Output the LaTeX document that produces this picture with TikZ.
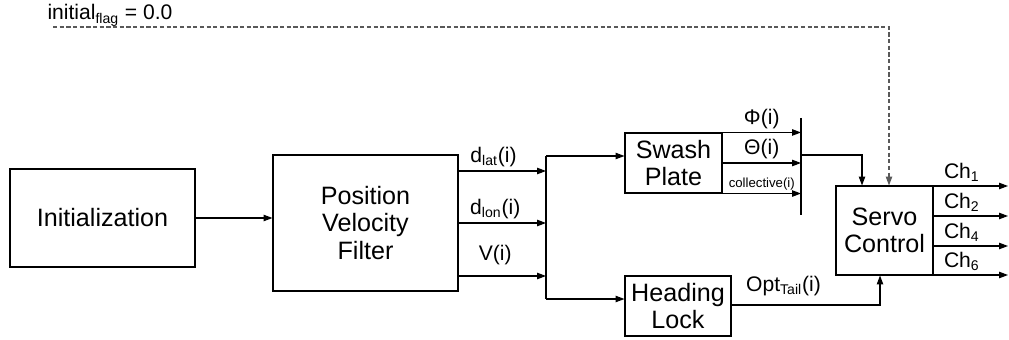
\documentclass[tikz,border=0pt]{standalone}
\usepackage{fontspec}
\setmainfont{Liberation Sans}
\usetikzlibrary{arrows.meta, positioning, calc}
\newcommand{\boxfont}{\fontsize{14.3}{15.5}\selectfont}
\newcommand{\sigfont}{\fontsize{12}{13}\selectfont}

\begin{document}
\begin{tikzpicture}[
  line width=0.6pt,
  >={Triangle[length=5pt,width=3.6pt]},
  block/.style={draw, align=center, inner sep=0pt, font=\boxfont},
  sig/.style={font=\sigfont, inner sep=2pt},
  flagline/.style={dashed, dash pattern=on 2.4pt off 1.4pt, black!65}
]
  \useasboundingbox (0,0) rectangle (20.18,6.78);

  % blocks
  \node[block, minimum width=3.7cm, minimum height=1.96cm]
    (init) at (2.05, 2.42) {Initialization};
  \node[block, minimum width=3.7cm, minimum height=2.72cm]
    (pvf) at (7.31, 2.32) {Position\\Velocity\\Filter};
  \node[block, minimum width=1.94cm, minimum height=1.2cm]
    (swash) at (13.47, 3.52) {Swash\\Plate};
  \node[block, minimum width=2.12cm, minimum height=1.2cm]
    (head) at (13.56, 0.66) {Heading\\Lock};
  \node[block, minimum width=1.94cm, minimum height=1.78cm]
    (servo) at (17.69, 2.17) {Servo\\Control};

  % bus points
  \coordinate (busT) at (10.92, 3.66);
  \coordinate (busB) at (10.92, 0.80);
  \coordinate (barT) at (16.02, 4.42);
  \coordinate (barB) at (16.02, 2.48);
  \coordinate (dlat) at (10.92, 3.36);
  \coordinate (dlon) at (10.92, 2.32);
  \coordinate (vel)  at (10.92, 1.26);

  \draw[->] (init.east) -- (init.east -| pvf.west);

  \draw[->] (pvf.east |- dlat) -- (dlat)
    node[sig, above, pos=0.4] {d\textsubscript{lat}(i)};
  \draw[->] (pvf.east |- dlon) -- (dlon)
    node[sig, above, pos=0.42] {d\textsubscript{lon}(i)};
  \draw[->] (pvf.east |- vel) -- (vel)
    node[sig, above=4pt, pos=0.42] {V(i)};

  \draw (busT) -- (busB);
  \draw[->] (busT) -- (busT -| swash.west);
  \draw[->] (busB) -- (busB -| head.west);

  % swash plate outputs
  \draw (barT) -- (barB);
  \draw[->] (swash.north east) -- (swash.north east -| barT)
    node[sig, above, midway] {Φ(i)};
  \draw[->] (swash.east) -- (swash.east -| barT)
    node[sig, above, midway] {Θ(i)};
  \draw[->] (swash.south east) -- (swash.south east -| barT)
    node[font=\fontsize{7.5}{8}\selectfont, inner sep=1.5pt, above, midway] {collective(i)};

  \coordinate (toServo) at (17.24, 3.68);
  \draw[->] (toServo -| barT) -- (toServo) -- (toServo |- servo.north);

  % initial flag
  \node[sig, anchor=base west, inner sep=0pt] (flag) at (0.94, 6.38)
    {initial\textsubscript{flag} = 0.0};
  \coordinate (flagS) at (1.06, 6.24);
  \coordinate (flagE) at (17.78, 6.24);
  \draw[flagline, ->] (flagS) -- (flagE) -- (flagE |- servo.north);

  % heading lock output
  \coordinate (optIn) at (17.6, 0.68);
  \draw[->] (optIn -| head.east)
    -- node[sig, above=3pt, pos=0.35] {Opt\textsubscript{Tail}(i)} (optIn)
    -- (optIn |- servo.south);

  % servo outputs
  \foreach \y/\n in {3.06/1, 2.46/2, 1.86/4, 1.28/6} {
    \coordinate (ch\n) at (20.16, \y);
    \draw[->] (ch\n -| servo.east) -- (ch\n)
      node[sig, above, pos=0.38] {Ch\textsubscript{\n}};
  }
\end{tikzpicture}
\end{document}
